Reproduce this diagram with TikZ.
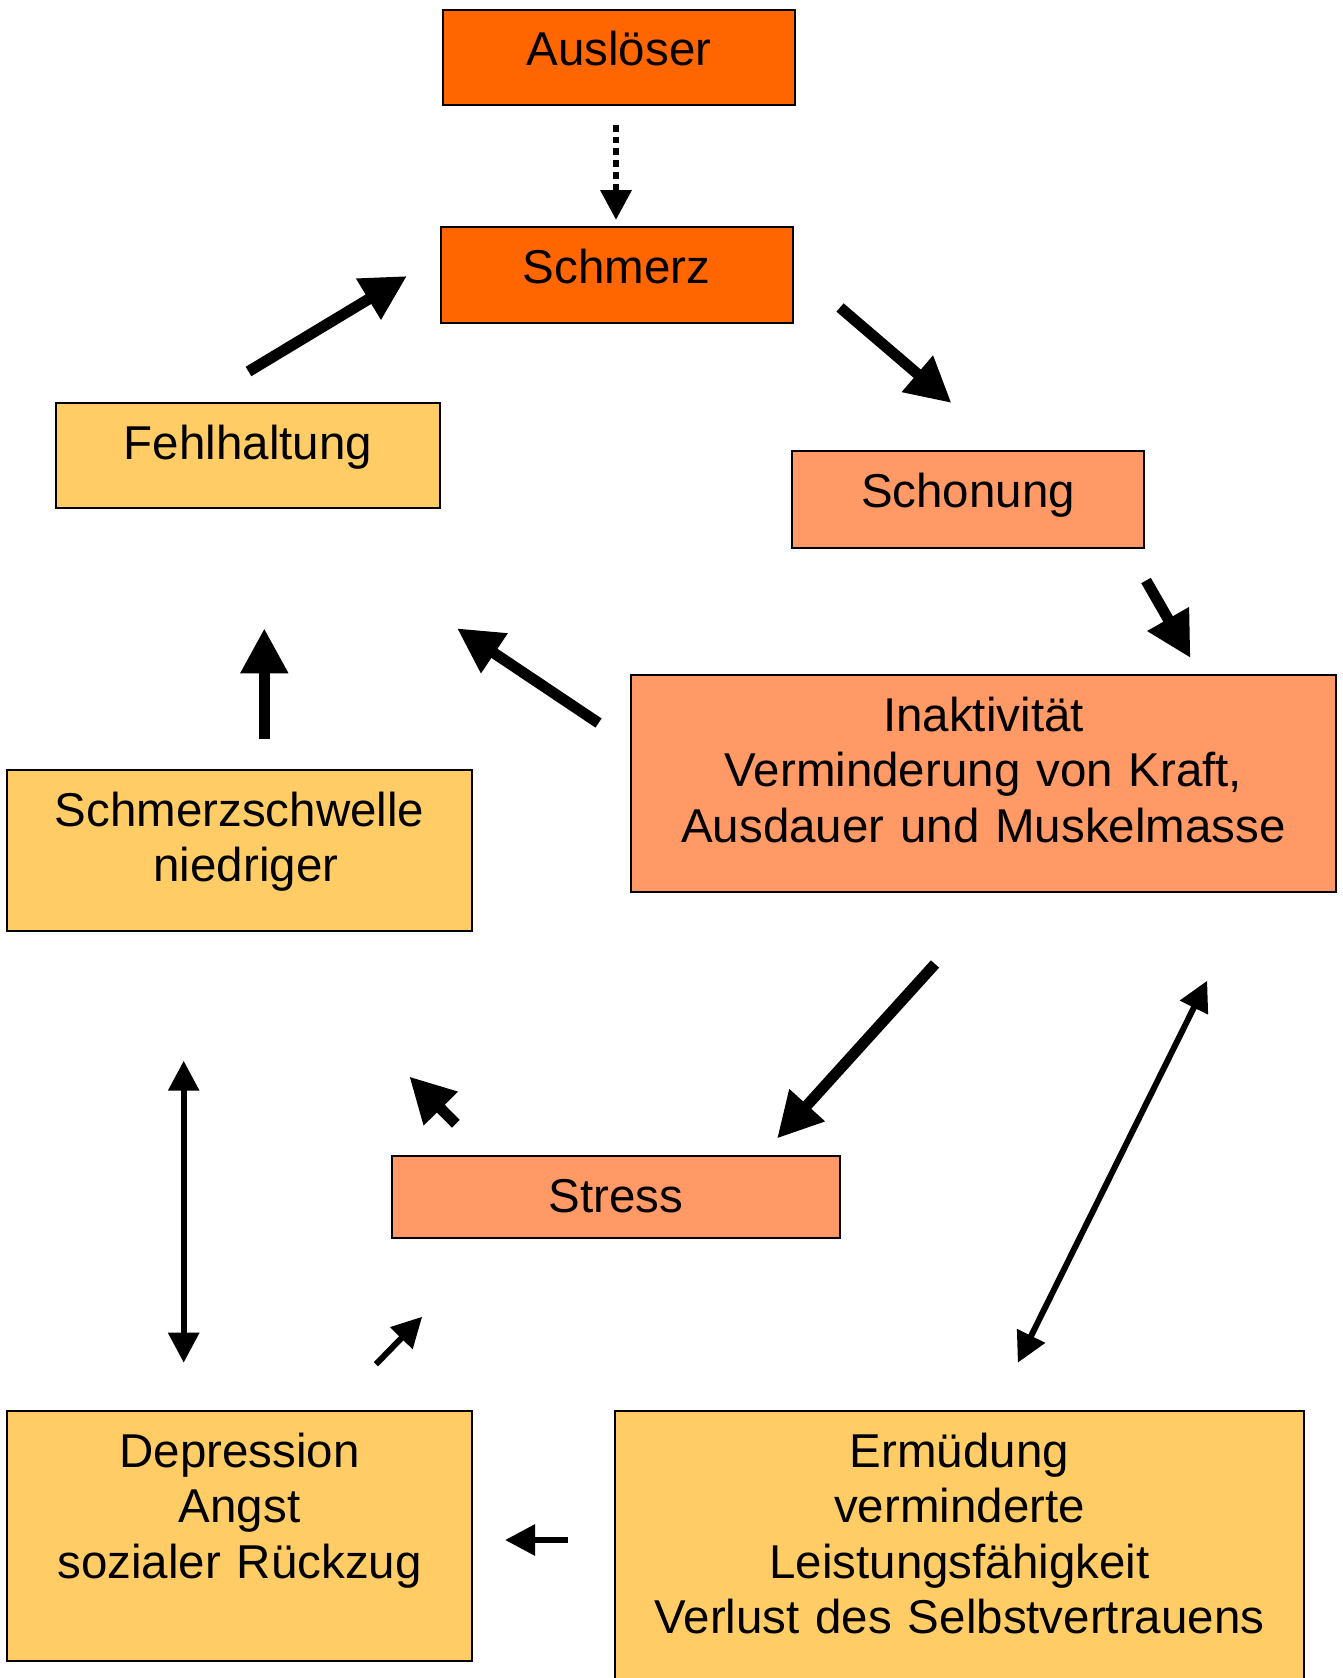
\documentclass[tikz,border=0pt]{standalone}
\usepackage{fontspec}
\setmainfont{Liberation Sans}
\usetikzlibrary{arrows.meta}

\definecolor{kraeftigorange}{HTML}{FF6600}
\definecolor{mittelorange}{HTML}{FF9966}
\definecolor{hellorange}{HTML}{FFCC66}

\tikzstyle{box} = [draw, line width=2pt, rectangle, inner sep=0pt, align=center, text height=56pt, font=\fontsize{47.5}{55.5}\selectfont]
\tikzstyle{bigarrow} = [draw, line width=11pt, -{Triangle[length=45pt,width=45pt]}]
\tikzstyle{smallarrow} = [draw, line width=6pt, -{Triangle[length=30pt,width=30pt]}]
\tikzstyle{bothways} = [draw, line width=6pt, {Triangle[length=30pt,width=30pt]}-{Triangle[length=30pt,width=30pt]}]
\tikzstyle{dotarrow} = [draw, line width=6.7pt, dash pattern=on 6.7pt off 5pt, -{Triangle[length=30pt,width=30pt]}]

\begin{document}
\begin{tikzpicture}[x=1pt, y=-1pt]
    \clip[use as bounding box] (0,0) rectangle (1343,1678);

    % First the boxes
    \node[box, fill=kraeftigorange, text width=352pt, text depth=39pt] (ausloeser) at (619,57.5) {Auslöser};
    \node[box, fill=kraeftigorange, text width=352pt, text depth=40pt] (schmerz) at (616.5,275) {Schmerz};
    \node[box, fill=hellorange, text width=384pt, text depth=49pt] (fehlhaltung) at (248,455.5) {Fehlhaltung};
    \node[box, fill=mittelorange, text width=352pt, text depth=41pt] (schonung) at (968,499.5) {Schonung};
    \node[box, fill=mittelorange, text width=705pt, text depth=161pt] (inaktiv) at (983.5,783.5)
        {Inaktivität\\Verminderung von Kraft,\\Ausdauer und Muskelmasse};
    \node[box, fill=hellorange, text width=465pt, text depth=105pt] (schwelle) at (239.5,850.5)
        {Schmerzschwelle\\\hspace*{13pt}niedriger};
    \node[box, fill=mittelorange, text width=448pt, text depth=26pt] (stress) at (616,1197) {Stress};
    \node[box, fill=hellorange, text width=465pt, text depth=194pt] (depression) at (239.5,1536)
        {Depression\\Angst\\sozialer Rückzug};
    \node[box, fill=hellorange, text width=689pt, text depth=244pt] (ermuedung) at (959.5,1561)
        {Ermüdung\\verminderte\\Leistungsfähigkeit\\Verlust des Selbstvertrauens};

    % End points of the arrows
    \foreach \pos/\name in {{(616,125)/au1}, {(616,220)/au2},
                            {(248.5,371.5)/fs1}, {(407,276)/fs2},
                            {(840,307.5)/ss1}, {(951.5,403)/ss2},
                            {(1146,580.5)/si1}, {(1190.5,658)/si2},
                            {(598.5,723)/if1}, {(457,628.3)/if2},
                            {(264.3,739.3)/sf1}, {(264.3,628.3)/sf2},
                            {(935,964)/is1}, {(777,1138.5)/is2},
                            {(455.8,1123.8)/st1}, {(409.3,1076.5)/st2},
                            {(183.7,1060.7)/sd1}, {(183.7,1362.7)/sd2},
                            {(1207.2,980.7)/ie1}, {(1017.8,1362.7)/ie2},
                            {(375.9,1364.3)/ds1}, {(422.2,1316.7)/ds2},
                            {(567.7,1540)/ed1}, {(505,1540)/ed2}}
        \node[coordinate] (\name) at \pos {};

    % Then the arrows
    \path[dotarrow] (au1) -- (au2);
    \foreach \source/\dest in {fs1/fs2, ss1/ss2, si1/si2, if1/if2, sf1/sf2, is1/is2, st1/st2}
        \path[bigarrow] (\source) -- (\dest);
    \foreach \source/\dest in {ds1/ds2, ed1/ed2}
        \path[smallarrow] (\source) -- (\dest);
    \path[bothways] (sd1) -- (sd2);
    \path[bothways] (ie1) -- (ie2);
\end{tikzpicture}
\end{document}
